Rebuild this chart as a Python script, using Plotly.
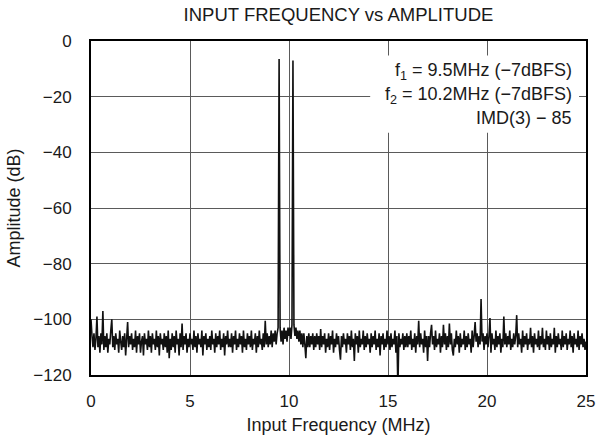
import numpy as np
import plotly.graph_objects as go

# ---- data ----
# FFT bins every 0.05 MHz from 0 to 25 MHz; one row per MHz
amp_rows = [
    [-100,-106,-110,-105,-111,-107,-99,-110,-106,-112,-105,-109,-97,-111,-106,-110,-105,-112,-107,-109],
    [-104,-100,-110,-106,-111,-105,-109,-107,-112,-104,-108,-111,-106,-110,-105,-113,-107,-101,-110,-106],
    [-109,-105,-111,-107,-110,-104,-112,-106,-109,-105,-112,-108,-106,-113,-105,-109,-107,-111,-104,-110],
    [-106,-112,-105,-109,-107,-111,-104,-110,-106,-113,-105,-109,-107,-111,-105,-110,-106,-112,-104,-114],
    [-107,-111,-105,-110,-106,-112,-104,-109,-107,-113,-105,-110,-101.5,-111,-106,-109,-105,-112,-107,-110],
    [-105,-109,-107,-111,-104,-110,-106,-112,-105,-109,-107,-110,-104,-113,-106,-109,-105,-111,-107,-110],
    [-106,-111,-104,-109,-107,-112,-105,-110,-106,-109,-104,-111,-107,-110,-105,-113,-106,-109,-104,-110],
    [-107,-110,-105,-112,-106,-109,-104,-111,-107,-110,-105,-109,-106,-112,-104,-110,-107,-111,-105,-109],
    [-106,-110,-104,-111,-107,-109,-105,-112,-106,-110,-104,-109,-107,-111,-105,-110,-100.5,-109,-105,-110],
    [-106,-109,-104,-110,-105,-108,-104,-109,-105,-103,-6.5,-103,-108,-104,-109,-103,-107,-104,-108,-103],
    [-106,-103,-107,-102,-7,-102,-106,-103,-107,-104,-108,-104,-109,-105,-110,-105,-109,-114,-106,-110],
    [-105,-110,-106,-109,-105,-111,-106,-110,-105,-109,-106,-111,-103.5,-110,-106,-109,-105,-112,-107,-110],
    [-105,-111,-106,-109,-104,-112,-107,-110,-105,-109,-106,-111,-114.5,-106,-110,-105,-109,-107,-112,-105],
    [-109,-106,-111,-104,-110,-107,-115,-105,-109,-106,-112,-104,-110,-107,-109,-104,-111,-106,-110,-105],
    [-109,-107,-112,-105,-110,-106,-109,-104,-111,-107,-110,-105,-113,-106,-109,-105,-111,-107,-110,-104],
    [-109,-106,-111,-105,-110,-107,-109,-104,-112,-106,-125,-105,-110,-107,-109,-105,-111,-106,-110,-105],
    [-110,-106,-109,-104,-111,-107,-110,-105,-112,-106,-109,-100.5,-110,-105,-109,-107,-112,-104,-110,-106],
    [-115,-106,-110,-105,-102,-109,-106,-111,-104,-110,-107,-109,-105,-112,-106,-110,-102,-109,-105,-111],
    [-106,-110,-101.5,-109,-105,-111,-113,-107,-110,-104,-109,-106,-112,-105,-110,-107,-109,-104,-111,-106],
    [-110,-105,-109,-107,-112,-104,-110,-106,-101,-108,-105,-110,-106,-109,-92.7,-108,-105,-111,-106,-109],
    [-105,-110,-106,-99.5,-112,-105,-109,-107,-111,-104,-110,-106,-109,-105,-112,-107,-110,-99,-109,-105],
    [-110,-106,-109,-104,-111,-107,-110,-105,-109,-106,-98.5,-110,-105,-109,-107,-112,-104,-110,-106,-109],
    [-105,-111,-107,-109,-103,-110,-106,-112,-105,-109,-107,-110,-104,-111,-106,-109,-103,-110,-107,-111],
    [-104,-109,-106,-111,-105,-110,-107,-109,-103,-112,-106,-110,-105,-109,-107,-111,-104,-110,-106,-109],
    [-105,-111,-107,-109,-104,-110,-106,-112,-105,-109,-107,-110,-104,-111,-106,-109,-105,-110,-107,-111],
]
amp_last = [-108]
amplitude_db = [v for row in amp_rows for v in row] + amp_last
freq_mhz = np.round(np.arange(len(amplitude_db)) * 0.05, 2)

x_ticks = [0, 5, 10, 15, 20, 25]
y_ticks = [0, -20, -40, -60, -80, -100, -120]

title_text = "INPUT FREQUENCY vs AMPLITUDE"
x_title = "Input Frequency (MHz)"
y_title = "Amplitude (dB)"
note_lines = [
    "f<sub>1</sub> = 9.5MHz (−7dBFS)",
    "f<sub>2</sub> = 10.2MHz (−7dBFS)",
    "IMD(3) − 85",
]
note_y = [-10.9, -19.5, -27.8]

FONT = "Liberation Sans, Arial, sans-serif"
TXT = "#1a1a1a"

fig = go.Figure()
fig.add_trace(go.Scatter(
    x=freq_mhz, y=amplitude_db, mode="lines",
    line=dict(color="#111111", width=1.6, simplify=False),
    hoverinfo="skip",
))

# white box behind the legend text (covers gridlines, below the trace)
fig.add_shape(type="rect", xref="x", yref="y",
              x0=14.1, x1=24.65, y0=-5.2, y1=-33.0,
              fillcolor="white", line=dict(width=0), layer="between")

for txt, yy in zip(note_lines, note_y):
    fig.add_annotation(x=24.4, y=yy, xref="x", yref="y", text=txt,
                       showarrow=False, xanchor="right", yanchor="middle",
                       font=dict(family=FONT, size=18, color=TXT))

fig.update_layout(
    width=598, height=444,
    margin=dict(l=91, r=12, t=41, b=69, autoexpand=False),
    paper_bgcolor="white", plot_bgcolor="white",
    showlegend=False,
    title=dict(text=title_text, x=338.5 / 598, xanchor="center",
               y=1 - 15 / 444, yanchor="middle", yref="container",
               font=dict(family=FONT, size=18.5, color=TXT)),
    font=dict(family=FONT, size=17, color=TXT),
)
fig.update_xaxes(
    range=[0, 25], tickvals=x_ticks, ticktext=[str(v) for v in x_ticks],
    showgrid=True, gridcolor="#5a5a5a", gridwidth=1,
    showline=True, linecolor="black", linewidth=2, mirror=True,
    zeroline=False, ticks="", ticklabelstandoff=10, automargin=False,
    tickfont=dict(family=FONT, size=17, color=TXT),
    title=dict(text=x_title, standoff=8, font=dict(family=FONT, size=18, color=TXT)),
)
fig.update_yaxes(
    range=[-120, 0], tickvals=y_ticks,
    showgrid=True, gridcolor="#5a5a5a", gridwidth=1,
    showline=True, linecolor="black", linewidth=2, mirror=True,
    zeroline=False, ticks="", ticklabelstandoff=14, automargin=False,
    tickfont=dict(family=FONT, size=17, color=TXT),
    title=dict(text=y_title, standoff=8, font=dict(family=FONT, size=18, color=TXT)),
)

fig.write_html("out.html",
               config={"displayModeBar": False, "staticPlot": True},
               post_script="document.body.style.margin='0';"
                           "document.body.style.overflow='hidden';")
